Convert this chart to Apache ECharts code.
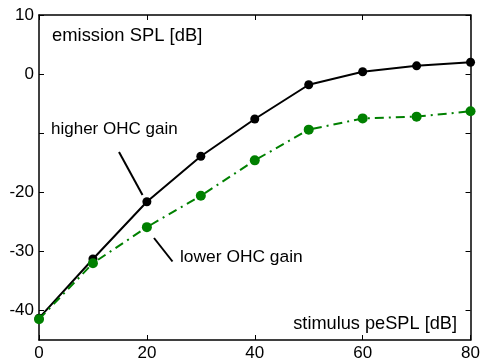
<!DOCTYPE html>
<html>
<head>
<meta charset="utf-8">
<script src="https://cdn.jsdelivr.net/npm/echarts@6/dist/echarts.min.js"></script>
<style>
  html, body { margin: 0; padding: 0; background: #fff; }
  #chart { width: 483px; height: 362px; }
</style>
</head>
<body>
<div id="chart"></div>
<script>
// stimulus level (x) and emission level for the two gain cases
var stimulus = [0, 10, 20, 30, 40, 50, 60, 70, 80];
var higherGain = [-41.3, -31.3, -21.6, -13.9, -7.6, -1.8, 0.4, 1.4, 2.0];
var lowerGain = [-41.5, -32.0, -25.9, -20.6, -14.6, -9.4, -7.5, -7.2, -6.3];
var yTicks = [-40, -30, -20, -10, 0, 10];
var yLabels = [-40, -30, -20, 0, 10]; // -10 is not labelled in the original

var FONT = 'Liberation Sans';

function pairs(xs, ys) {
    return xs.map(function (x, i) { return [x, ys[i]]; });
}

function ext(a, b) {
    var o = {};
    for (var k in a) o[k] = a[k];
    for (var k2 in b) o[k2] = b[k2];
    return o;
}

var myChart = echarts.init(document.getElementById('chart'), null, { renderer: 'canvas' });

var tick = { show: true, inside: true, length: 5, lineStyle: { color: '#000', width: 1 } };
var axisLine = { show: true, onZero: false, lineStyle: { color: '#000', width: 1.5 } };

var options = {
    animation: false,
    backgroundColor: '#fff',
    grid: { left: 39, right: 9, top: 15, bottom: 20 },
    xAxis: [{
        type: 'value', min: 0, max: 80, interval: 20, position: 'bottom',
        axisLine: axisLine, axisTick: tick, splitLine: { show: false },
        axisLabel: { color: '#000', fontFamily: FONT, fontSize: 17, margin: 5 }
    }, {
        type: 'value', min: 0, max: 80, interval: 20, position: 'top',
        axisLine: axisLine, axisTick: tick, splitLine: { show: false },
        axisLabel: { show: false }
    }],
    yAxis: [{
        type: 'value', min: -45, max: 10, position: 'left',
        axisLine: axisLine, splitLine: { show: false },
        axisTick: ext(tick, { customValues: yTicks }),
        axisLabel: { color: '#000', fontFamily: FONT, fontSize: 17, margin: 5, customValues: yLabels }
    }, {
        type: 'value', min: -45, max: 10, position: 'right',
        axisLine: axisLine, splitLine: { show: false },
        axisTick: ext(tick, { customValues: yTicks }),
        axisLabel: { show: false }
    }],
    series: [{
        name: 'higher OHC gain',
        type: 'line',
        data: pairs(stimulus, higherGain),
        symbol: 'circle', symbolSize: 9,
        itemStyle: { color: '#000' },
        lineStyle: { color: '#000', width: 2 },
        z: 2
    }, {
        name: 'lower OHC gain',
        type: 'line',
        data: pairs(stimulus, lowerGain),
        symbol: 'circle', symbolSize: 10,
        itemStyle: { color: '#008000' },
        lineStyle: { color: '#008000', width: 2, type: [9, 5, 2, 5] },
        z: 3
    }],
    graphic: [
        { type: 'text', left: 52, top: 27, style: { text: 'emission SPL [dB]', font: '18.4px ' + FONT, fill: '#000' } },
        { type: 'text', right: 26, top: 315, style: { text: 'stimulus peSPL [dB]', font: '18.2px ' + FONT, fill: '#000' } },
        { type: 'text', left: 51, top: 121, style: { text: 'higher OHC gain', font: '17px ' + FONT, fill: '#000' } },
        { type: 'text', left: 180, top: 249, style: { text: 'lower OHC gain', font: '17.4px ' + FONT, fill: '#000' } },
        { type: 'line', shape: { x1: 119, y1: 152, x2: 142.5, y2: 195 }, style: { stroke: '#000', lineWidth: 2 } },
        { type: 'line', shape: { x1: 154, y1: 238, x2: 172.5, y2: 261.5 }, style: { stroke: '#000', lineWidth: 2 } }
    ]
};

myChart.setOption(options, true);
</script>
</body>
</html>
